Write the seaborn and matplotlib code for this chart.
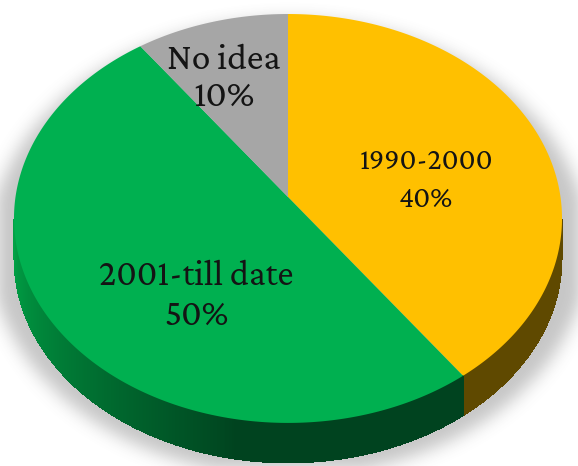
import numpy as np
import matplotlib
matplotlib.use("Agg")
import matplotlib.pyplot as plt
from matplotlib.patches import Polygon
from matplotlib.colors import to_rgb
from matplotlib import font_manager
import seaborn as sns

# Survey shares by period
labels = ["1990-2000", "2001-till date", "No idea"]
shares = [40, 50, 10]
top_colors = ["#FFC000", "#00B050", "#A6A6A6"]
side_colors = ["#5F4900", "#00431F", "#6E6E6E"]
label_sizes = [21.5, 26, 27]

sns.set_theme(style="white")
families = [f.name for f in font_manager.fontManager.ttflist]
serif_name = next((n for n in ["Crimson Pro", "Libre Caslon Text", "Liberation Serif"]
                   if n in families), "DejaVu Serif")
plt.rcParams["font.family"] = [serif_name, "DejaVu Serif"]
label_font = font_manager.FontProperties(family=[serif_name, "DejaVu Serif"],
                                         weight="light")

W, H = 578, 466
fig = plt.figure(figsize=(W / 100, H / 100), dpi=100, facecolor="white")
ax = fig.add_axes([0, 0, 1, 1])
ax.set_xlim(0, W)
ax.set_ylim(H, 0)
ax.axis("off")

palette = sns.color_palette(top_colors)

# Disc seen in perspective: centre, half-axes, foreshortening, thickness
CX, CY = 288.0, 197.0
A, B, K = 272.5, 202.2, 0.105
DEPTH = 40.0


def rim(phi, drop=0.0):
    """Point on the disc rim, phi in degrees clockwise from the top."""
    t = np.radians(phi)
    u, v = np.sin(t), np.cos(t)
    s = 1 + K * v
    return CX + A * u / s, CY - B * v / s + drop


def blur(img, sigma):
    r = int(3 * sigma)
    x = np.arange(-r, r + 1)
    k = np.exp(-x ** 2 / (2 * sigma ** 2))
    k /= k.sum()
    pad = np.pad(img, r, mode="constant")
    tmp = np.apply_along_axis(lambda m: np.convolve(m, k, mode="valid"), 0, pad)
    return np.apply_along_axis(lambda m: np.convolve(m, k, mode="valid"), 1, tmp)


# soft drop shadow under the disc
yy, xx = np.mgrid[0:H, 0:W] + 0.5
mask = (((xx - 289) / 296.0) ** 2 + ((yy - 248) / 225.0) ** 2 <= 1).astype(float)
sh = blur(mask, 7)
rgba = np.zeros((H, W, 4))
rgba[..., :3] = 0.35
rgba[..., 3] = 0.34 * sh ** 0.6
ax.imshow(rgba, extent=(0, W, H, 0), zorder=0, interpolation="bilinear",
          aspect="auto")
ax.set_xlim(0, W)
ax.set_ylim(H, 0)

# slice angles
total = float(sum(shares))
ends = np.cumsum(shares) / total * 360.0
starts = np.concatenate([[0.0], ends[:-1]])

# visible side wall: between the two silhouette points
sil = np.degrees(np.arccos(-K))
vis_lo, vis_hi = sil, 360 - sil


def side_color(i, phi):
    base = np.array(to_rgb(side_colors[i]))
    if labels[i] == "2001-till date":
        light = np.array(to_rgb("#00A346"))
        f = np.clip((phi - 190) / (vis_hi - 190), 0, 1) ** 0.9
        return tuple(base * (1 - f) + light * f)
    return tuple(base)


for i in range(len(shares)):
    a0, a1 = max(starts[i], vis_lo), min(ends[i], vis_hi)
    if a1 <= a0:
        continue
    steps = np.linspace(a0, a1, int((a1 - a0) * 3) + 2)
    wall = [rim(p) for p in steps] + [rim(p, DEPTH) for p in steps[::-1]]
    ax.add_patch(Polygon(wall, closed=True, facecolor=side_color(i, a1),
                         edgecolor="none", zorder=1))
    for p, q in zip(steps[:-1], steps[1:]):
        c = side_color(i, (p + q) / 2)
        pts = [rim(p), rim(q + 0.25), rim(q + 0.25, DEPTH), rim(p, DEPTH)]
        ax.add_patch(Polygon(pts, closed=True, facecolor=c, edgecolor="none",
                             antialiased=False, zorder=1.1))

# top face
for i in range(len(shares)):
    phis = np.linspace(starts[i], ends[i], 300)
    pts = [(CX, CY)] + [rim(p) for p in phis]
    ax.add_patch(Polygon(pts, closed=True, facecolor=palette[i],
                         edgecolor="none", linewidth=0, zorder=2))

# labels
label_pos = [(426, 181), (196, 296), (224, 79)]
line_gap = [38, 40, 37]
for i in range(len(shares)):
    x, y = label_pos[i]
    g = line_gap[i] / 2
    ax.text(x, y - g, labels[i], ha="center", va="center",
            fontproperties=label_font, fontsize=label_sizes[i],
            color="#141414", zorder=3)
    ax.text(x, y + g, f"{shares[i]}%", ha="center", va="center",
            fontproperties=label_font, fontsize=label_sizes[i],
            color="#141414", zorder=3)

fig.savefig("out.png", dpi=100, facecolor="white")
